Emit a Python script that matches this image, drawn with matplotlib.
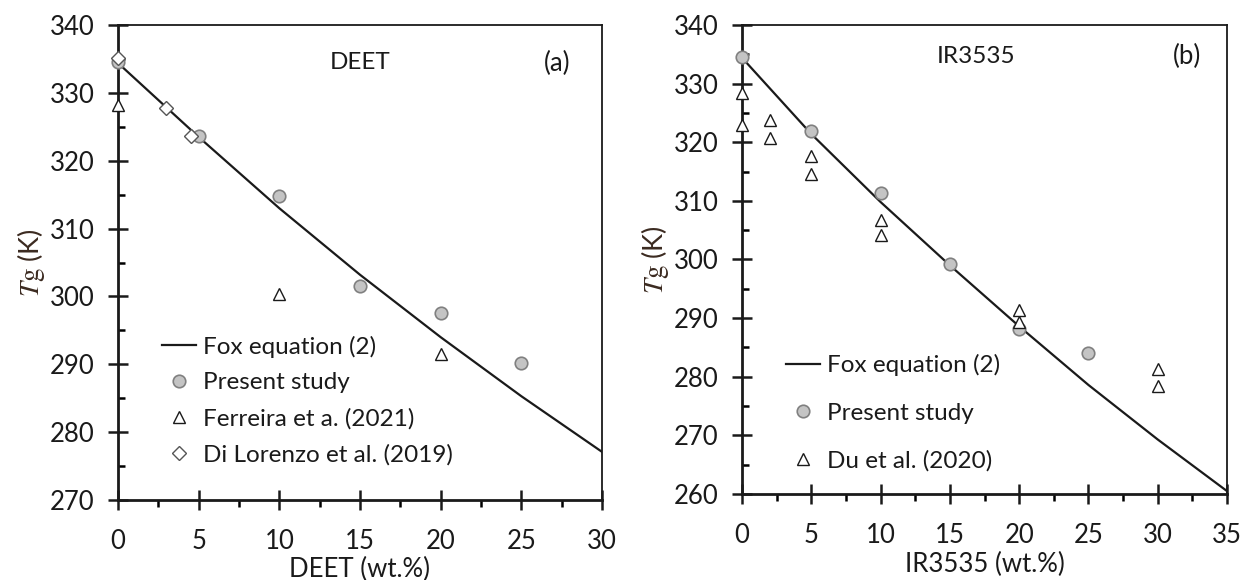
import matplotlib
matplotlib.use("Agg")
import matplotlib.pyplot as plt
from matplotlib.ticker import MultipleLocator

plt.rcParams['font.family'] = ['Lato', 'DejaVu Sans']
plt.rcParams['mathtext.fontset'] = 'stix'

# ---- Panel (a): DEET ----
deet_fox_x = [0, 5, 10, 15, 20, 25, 30]
deet_fox_y = [334.4, 323.5, 313.0, 303.2, 294.0, 285.3, 277.1]
deet_present_x = [0, 5, 10, 15, 20, 25]
deet_present_y = [334.5, 323.6, 314.8, 301.6, 297.5, 290.2]
deet_ferreira_x = [0, 10, 20]
deet_ferreira_y = [328.2, 300.4, 291.5]
deet_dilorenzo_x = [0, 3, 4.5]
deet_dilorenzo_y = [335.2, 327.7, 323.6]

# ---- Panel (b): IR3535 ----
ir_fox_x = [0, 5, 10, 15, 20, 25, 30, 35]
ir_fox_y = [334.4, 321.4, 309.8, 299.0, 288.6, 278.6, 269.3, 260.5]
ir_present_x = [0, 5, 10, 15, 20, 25]
ir_present_y = [334.6, 321.9, 311.4, 299.2, 288.1, 284.1]
ir_du_x = [0, 0, 2, 2, 5, 5, 10, 10, 20, 20, 30, 30]
ir_du_y = [328.4, 323.0, 323.8, 320.8, 317.6, 314.6, 306.7, 304.1, 291.4, 289.3, 281.3, 278.5]

FS = 17.5
TFS = 18.5
TXT = '#1a1a1a'
LAB = '#3b2a20'

fig = plt.figure(figsize=(12.43, 5.8), dpi=100)
axA = fig.add_axes([0.0949, 0.1379, 0.3894, 0.8190])
axB = fig.add_axes([0.5970, 0.1483, 0.3901, 0.8086])

circ = dict(marker='o', ms=9, mfc='#c4c4c4', mec='#808080', mew=1.2, ls='none')
tri = dict(marker='^', ms=8.5, mfc='white', mec='#1a1a1a', mew=1.0, ls='none')
dia = dict(marker='D', ms=7.5, mfc='white', mec='#555555', mew=1.0, ls='none')
line = dict(color='#1a1a1a', lw=1.6)


def style(ax, xmax, ymin, xlabel, xlabelpad):
    ax.set_xlim(0, xmax)
    ax.set_ylim(ymin, 340)
    ax.xaxis.set_major_locator(MultipleLocator(5))
    ax.xaxis.set_minor_locator(MultipleLocator(2.5))
    ax.yaxis.set_major_locator(MultipleLocator(10))
    ax.yaxis.set_minor_locator(MultipleLocator(5))
    ax.tick_params(axis='both', which='major', direction='inout', length=14,
                   width=1.8, labelsize=TFS, labelcolor=TXT, color='#1a1a1a')
    ax.tick_params(axis='y', which='major', pad=10)
    ax.tick_params(axis='x', which='major', pad=14)
    ax.tick_params(axis='y', which='minor', direction='in', length=5, width=1.8)
    ax.tick_params(axis='x', which='minor', direction='out', length=5, width=1.8)
    for s in ['left', 'bottom']:
        ax.spines[s].set_linewidth(2.0)
        ax.spines[s].set_color('#1a1a1a')
    for s in ['top', 'right']:
        ax.spines[s].set_linewidth(1.3)
        ax.spines[s].set_color('#1a1a1a')
    ax.set_xlabel(xlabel, fontsize=TFS, color=TXT, labelpad=xlabelpad)
    ax.set_ylabel(r'$T\mathrm{g}$ (K)', fontsize=FS + 2, color=LAB, labelpad=2)


# Panel (a)
axA.plot(deet_fox_x, deet_fox_y, **line, label='Fox equation (2)', zorder=2)
axA.plot(deet_present_x, deet_present_y, **circ, label='Present study', zorder=3, clip_on=False)
axA.plot(deet_ferreira_x, deet_ferreira_y, **tri, label='Ferreira et a. (2021)', zorder=4, clip_on=False)
axA.plot(deet_dilorenzo_x, deet_dilorenzo_y, **dia, label='Di Lorenzo et al. (2019)', zorder=5, clip_on=False)
style(axA, 30, 270, 'DEET (wt.%)', 2)
axA.text(15, 334.4, 'DEET', fontsize=FS, color=TXT, ha='center', va='center')
axA.text(27.2, 334.4, '(a)', fontsize=FS + 1, color=TXT, ha='center', va='center')
axA.legend(loc='upper left', bbox_to_anchor=(0.07, 0.367), frameon=False,
           fontsize=FS, handlelength=1.4, handletextpad=0.29,
           labelspacing=0.6, borderaxespad=0, labelcolor=TXT)

# Panel (b)
axB.plot(ir_fox_x, ir_fox_y, **line, label='Fox equation (2)', zorder=2)
axB.plot(ir_present_x, ir_present_y, **circ, label='Present study', zorder=3, clip_on=False)
axB.plot(ir_du_x, ir_du_y, **tri, label='Du et al. (2020)', zorder=4, clip_on=False)
style(axB, 35, 260, 'IR3535 (wt.%)', 3)
axB.text(16.9, 334.7, 'IR3535', fontsize=FS, color=TXT, ha='center', va='center')
axB.text(32.1, 334.7, '(b)', fontsize=FS + 1, color=TXT, ha='center', va='center')
axB.legend(loc='upper left', bbox_to_anchor=(0.07, 0.319), frameon=False,
           fontsize=FS, handlelength=1.4, handletextpad=0.29,
           labelspacing=1.09, borderaxespad=0, labelcolor=TXT)

fig.savefig('out.png', dpi=100)
